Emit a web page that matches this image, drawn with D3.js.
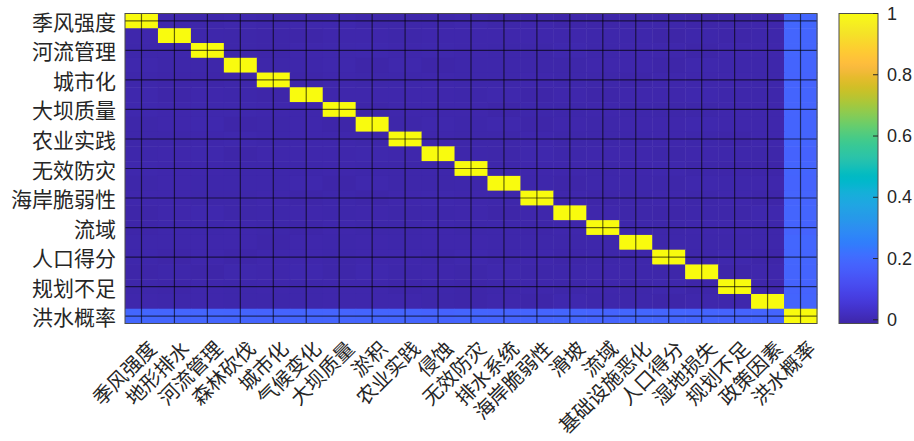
<!DOCTYPE html>
<html>
<head>
<meta charset="utf-8">
<script src="https://cdn.jsdelivr.net/npm/d3@7"></script>
<style>
  body { margin: 0; background: #fff; }
  svg text { fill: #262626; }
</style>
</head>
<body>
<svg id="heat" width="914" height="441"></svg>
<script>
// variable names (row/column order)
const labels = ["季风强度", "地形排水", "河流管理", "森林砍伐", "城市化", "气候变化", "大坝质量", "淤积",
  "农业实践", "侵蚀", "无效防灾", "排水系统", "海岸脆弱性", "滑坡", "流域", "基础设施恶化",
  "人口得分", "湿地损失", "规划不足", "政策因素", "洪水概率"];

// lower triangle of the correlation matrix (row i holds columns 0..i-1), diagonal = 1
const corrLower = [
  [],
  [-0.007],
  [-0.008, -0.008],
  [-0.005, -0.009, -0.009],
  [-0.008, -0.010, -0.011, -0.009],
  [-0.005, -0.011, -0.007, -0.008, -0.010],
  [-0.004, -0.006, -0.005, -0.005, -0.007, -0.006],
  [-0.009, -0.006, -0.004, -0.011, -0.009, -0.007, -0.010],
  [-0.009, -0.009, -0.006, -0.005, -0.008, -0.006, -0.006, -0.009],
  [-0.008, -0.007, -0.005, -0.010, -0.007, -0.007, -0.007, -0.005, -0.007],
  [-0.005, -0.006, -0.006, -0.008, -0.008, -0.008, -0.007, -0.008, -0.009, -0.008],
  [-0.009, -0.007, -0.008, -0.008, -0.008, -0.005, -0.011, -0.005, -0.009, -0.009, -0.008],
  [-0.006, -0.006, -0.009, -0.009, -0.006, -0.010, -0.008, -0.010, -0.007, -0.005, -0.007, -0.008],
  [-0.010, -0.006, -0.004, -0.009, -0.008, -0.007, -0.008, -0.007, -0.009, -0.008, -0.006, -0.010, -0.007],
  [-0.010, -0.008, -0.008, -0.006, -0.009, -0.010, -0.006, -0.009, -0.009, -0.006, -0.009, -0.008, -0.011, -0.006],
  [-0.008, -0.008, -0.007, -0.007, -0.010, -0.007, -0.008, -0.007, -0.008, -0.007, -0.007, -0.008, -0.009, -0.009, -0.008],
  [-0.008, -0.012, -0.007, -0.011, -0.006, -0.006, -0.009, -0.006, -0.007, -0.009, -0.005, -0.009, -0.007, -0.011, -0.009, -0.008],
  [-0.010, -0.008, -0.010, -0.005, -0.007, -0.004, -0.009, -0.004, -0.008, -0.007, -0.009, -0.005, -0.009, -0.008, -0.007, -0.008, -0.009],
  [-0.009, -0.010, -0.006, -0.008, -0.007, -0.008, -0.006, -0.007, -0.010, -0.008, -0.010, -0.008, -0.006, -0.009, -0.007, -0.009, -0.005, -0.011],
  [-0.006, -0.008, -0.007, -0.008, -0.008, -0.008, -0.006, -0.006, -0.006, -0.009, -0.010, -0.007, -0.010, -0.004, -0.008, -0.008, -0.010, -0.006, -0.007],
  [0.189, 0.187, 0.187, 0.184, 0.180, 0.184, 0.182, 0.184, 0.183, 0.178, 0.183, 0.180, 0.182, 0.185, 0.181, 0.190, 0.186, 0.183, 0.181, 0.183]
];

const cbarTicks = [0, 0.2, 0.4, 0.6, 0.8, 1];

// parula colormap (64 steps)
const parula = [
  [0.2422,0.1504,0.6603],[0.2504,0.1650,0.7076],[0.2578,0.1818,0.7511],[0.2647,0.1978,0.7952],
  [0.2706,0.2147,0.8364],[0.2751,0.2342,0.8710],[0.2783,0.2559,0.8991],[0.2803,0.2782,0.9221],
  [0.2813,0.3006,0.9414],[0.2810,0.3228,0.9579],[0.2795,0.3447,0.9717],[0.2760,0.3667,0.9829],
  [0.2699,0.3892,0.9906],[0.2602,0.4123,0.9952],[0.2440,0.4358,0.9988],[0.2206,0.4603,0.9973],
  [0.1963,0.4847,0.9892],[0.1834,0.5074,0.9798],[0.1786,0.5289,0.9682],[0.1764,0.5499,0.9520],
  [0.1687,0.5703,0.9359],[0.1540,0.5902,0.9218],[0.1460,0.6091,0.9079],[0.1380,0.6276,0.8973],
  [0.1248,0.6459,0.8883],[0.1113,0.6635,0.8763],[0.0952,0.6798,0.8598],[0.0689,0.6948,0.8394],
  [0.0297,0.7082,0.8163],[0.0036,0.7203,0.7917],[0.0067,0.7312,0.7660],[0.0433,0.7411,0.7394],
  [0.0964,0.7500,0.7120],[0.1408,0.7584,0.6842],[0.1717,0.7670,0.6554],[0.1938,0.7758,0.6251],
  [0.2161,0.7843,0.5923],[0.2470,0.7918,0.5567],[0.2906,0.7973,0.5188],[0.3406,0.8008,0.4789],
  [0.3909,0.8029,0.4354],[0.4456,0.8024,0.3909],[0.5044,0.7993,0.3480],[0.5616,0.7942,0.3045],
  [0.6174,0.7876,0.2612],[0.6720,0.7793,0.2227],[0.7242,0.7698,0.1910],[0.7738,0.7598,0.1646],
  [0.8203,0.7498,0.1535],[0.8634,0.7406,0.1596],[0.9035,0.7330,0.1774],[0.9393,0.7288,0.2100],
  [0.9728,0.7298,0.2394],[0.9956,0.7434,0.2371],[0.9970,0.7659,0.2199],[0.9952,0.7893,0.2028],
  [0.9892,0.8136,0.1885],[0.9786,0.8386,0.1766],[0.9676,0.8639,0.1643],[0.9610,0.8890,0.1537],
  [0.9597,0.9135,0.1423],[0.9628,0.9373,0.1265],[0.9691,0.9606,0.1064],[0.9763,0.9831,0.0538]
].map(c => d3.rgb(c[0] * 255, c[1] * 255, c[2] * 255).formatHex());

const parulaInterp = d3.interpolateRgbBasis(parula);

// full symmetric matrix as cells
const n = labels.length;
const cells = [];
for (let i = 0; i < n; i++) {
  for (let j = 0; j < n; j++) {
    let v;
    if (i === j) v = 1;
    else if (j < i) v = corrLower[i][j];
    else v = corrLower[j][i];
    cells.push({ row: i, col: j, value: v });
  }
}

const svg = d3.select("#heat");
const plot = { left: 125, right: 817, top: 13.5, bottom: 323.5 };
const cbar = { left: 839, right: 878 };

const x = d3.scaleBand().domain(d3.range(n)).range([plot.left, plot.right]);
const y = d3.scaleBand().domain(d3.range(n)).range([plot.top, plot.bottom]);

const vmin = d3.min(cells, d => d.value);
const vmax = d3.max(cells, d => d.value);
const color = d3.scaleSequential(parulaInterp).domain([vmin, vmax]);

// cells
svg.append("g")
  .selectAll("rect")
  .data(cells)
  .join("rect")
  .attr("x", d => x(d.col))
  .attr("y", d => y(d.row))
  .attr("width", x.bandwidth() + 0.5)
  .attr("height", y.bandwidth() + 0.5)
  .attr("fill", d => color(d.value));

// grid lines at tick positions (cell centres)
const xTicks = d3.range(n);
const yTicks = d3.range(0, n, 2);
const grid = svg.append("g").attr("stroke", "#000").attr("stroke-opacity", 0.6).attr("stroke-width", 1.2);
grid.selectAll(".vx")
  .data(xTicks)
  .join("line")
  .attr("x1", d => x(d) + x.bandwidth() / 2)
  .attr("x2", d => x(d) + x.bandwidth() / 2)
  .attr("y1", plot.top)
  .attr("y2", plot.bottom);
grid.selectAll(".hy")
  .data(yTicks)
  .join("line")
  .attr("y1", d => y(d) + y.bandwidth() / 2)
  .attr("y2", d => y(d) + y.bandwidth() / 2)
  .attr("x1", plot.left)
  .attr("x2", plot.right);

// axes box
svg.append("rect")
  .attr("x", plot.left)
  .attr("y", plot.top)
  .attr("width", plot.right - plot.left)
  .attr("height", plot.bottom - plot.top)
  .attr("fill", "none")
  .attr("stroke", "#4d4d4d")
  .attr("stroke-width", 1);

// y labels (every other row)
svg.append("g")
  .selectAll("text")
  .data(yTicks)
  .join("text")
  .attr("x", plot.left - 9)
  .attr("y", d => y(d) + y.bandwidth() / 2)
  .attr("text-anchor", "end")
  .attr("dominant-baseline", "central")
  .style("font-family", "'Noto Sans CJK SC', sans-serif")
  .style("font-size", "21px")
  .text(d => labels[d]);

// x labels rotated 45°
svg.append("g")
  .selectAll("text")
  .data(xTicks)
  .join("text")
  .attr("transform", d => `translate(${x(d) + x.bandwidth() / 2 + 10.5},${plot.bottom + 20.5}) rotate(-45)`)
  .attr("text-anchor", "end")
  .attr("dominant-baseline", "central")
  .style("font-family", "'Noto Sans CJK SC', sans-serif")
  .style("font-size", "20px")
  .text(d => labels[d]);

// colorbar
const cy = d3.scaleLinear().domain([vmin, vmax]).range([plot.bottom, plot.top]);
const grad = svg.append("defs").append("linearGradient")
  .attr("id", "cbgrad")
  .attr("x1", 0).attr("y1", 1).attr("x2", 0).attr("y2", 0);
grad.selectAll("stop")
  .data(parula)
  .join("stop")
  .attr("offset", (d, i) => i / (parula.length - 1))
  .attr("stop-color", d => d);

svg.append("rect")
  .attr("x", cbar.left)
  .attr("y", plot.top)
  .attr("width", cbar.right - cbar.left)
  .attr("height", plot.bottom - plot.top)
  .attr("fill", "url(#cbgrad)")
  .attr("stroke", "#4d4d4d")
  .attr("stroke-width", 1);

const cbAxis = svg.append("g");
cbAxis.selectAll("line")
  .data(cbarTicks)
  .join("line")
  .attr("x1", cbar.right - 5)
  .attr("x2", cbar.right)
  .attr("y1", d => cy(d))
  .attr("y2", d => cy(d))
  .attr("stroke", "#262626");
cbAxis.selectAll("text")
  .data(cbarTicks)
  .join("text")
  .attr("x", cbar.right + 9)
  .attr("y", d => cy(d))
  .attr("dominant-baseline", "central")
  .style("font-family", "'Liberation Sans', Arial, sans-serif")
  .style("font-size", "18px")
  .text(d => d3.format("")(d));
</script>
</body>
</html>
